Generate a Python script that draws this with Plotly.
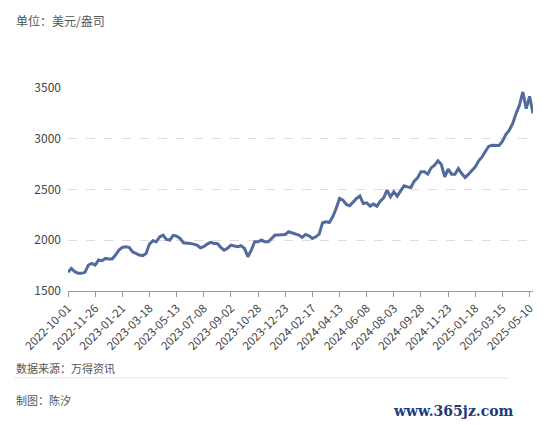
import pandas as pd
import plotly.graph_objects as go

# Weekly dates (Saturdays) from 2022-10-01
dates = [d.strftime("%Y-%m-%d") for d in pd.date_range("2022-10-01", periods=138, freq="7D")]

prices = [
    1684, 1723, 1690, 1674, 1674, 1684, 1756, 1772, 1756, 1805,
    1798, 1821, 1815, 1815, 1854, 1903, 1930, 1936, 1930, 1887,
    1870, 1854, 1848, 1870, 1962, 1995, 1985, 2034, 2051, 2008,
    2002, 2048, 2041, 2018, 1975, 1975, 1969, 1962, 1952, 1926,
    1936, 1962, 1979, 1969, 1969, 1930, 1903, 1920, 1952, 1943,
    1936, 1946, 1920, 1838, 1903, 1985, 1985, 2002, 1985, 1985,
    2018, 2051, 2051, 2051, 2057, 2084, 2074, 2061, 2051, 2028,
    2057, 2044, 2018, 2034, 2061, 2172, 2182, 2175, 2231, 2313,
    2412, 2395, 2352, 2339, 2379, 2412, 2435, 2362, 2369, 2336,
    2356, 2336, 2385, 2418, 2494, 2428, 2477, 2435, 2487, 2536,
    2526, 2520, 2582, 2615, 2674, 2674, 2651, 2713, 2739, 2782,
    2746, 2625, 2700, 2651, 2651, 2707, 2657, 2618, 2651, 2690,
    2723, 2782, 2821, 2877, 2926, 2936, 2936, 2933, 2976, 3041,
    3084, 3149, 3248, 3330, 3461, 3297, 3418, 3248,
]

tick_labels = [
    "2022-10-01", "2022-11-26", "2023-01-21", "2023-03-18", "2023-05-13",
    "2023-07-08", "2023-09-02", "2023-10-28", "2023-12-23", "2024-02-17",
    "2024-04-13", "2024-06-08", "2024-08-03", "2024-09-28", "2024-11-23",
    "2025-01-18", "2025-03-15", "2025-05-10",
]
y_ticks = [1500, 2000, 2500, 3000, 3500]

FONT = "Noto Sans CJK SC"

L, R, T, B = 68, 17, 88, 134
W, H = 550, 425
PW, PH = W - L - R, H - T - B

def px(x):
    return (x - L) / PW

def py(y):
    return (H - B - y) / PH

fig = go.Figure()
fig.add_trace(go.Scatter(
    x=dates, y=prices, mode="lines",
    line=dict(color="#526a9c", width=3),
    hoverinfo="skip", showlegend=False,
))

fig.update_layout(
    width=W, height=H,
    margin=dict(l=L, r=R, t=T, b=B),
    paper_bgcolor="white", plot_bgcolor="white",
    font=dict(family=FONT, size=11, color="#444"),
    xaxis=dict(
        type="category", automargin=False,
        range=[0, len(dates) - 1],
        tickmode="array", tickvals=tick_labels, ticktext=tick_labels,
        tickangle=-45,
        showgrid=False, zeroline=False,
        showline=True, linecolor="#999", linewidth=1,
        ticks="outside", ticklen=5, tickcolor="#999",
        tickfont=dict(family=FONT, size=11.5, color="#444"),
    ),
    yaxis=dict(
        range=[1500, 3500], automargin=False,
        tickmode="array", tickvals=y_ticks,
        showgrid=True, gridcolor="#dddddd", griddash="dash", gridwidth=1,
        zeroline=False, showline=False, ticks="",
        ticklabelstandoff=6,
        tickfont=dict(family=FONT, size=12, color="#444"),
    ),
)

fig.add_annotation(text="单位：美元/盎司", xref="paper", yref="paper",
                   x=px(14), y=py(20), xanchor="left", yanchor="middle",
                   showarrow=False, font=dict(family=FONT, size=12, color="#555"))
fig.add_annotation(text="数据来源：万得资讯", xref="paper", yref="paper",
                   x=px(14), y=py(368), xanchor="left", yanchor="middle",
                   showarrow=False, font=dict(family=FONT, size=11, color="#555"))
fig.add_annotation(text="制图：陈汐", xref="paper", yref="paper",
                   x=px(14), y=py(400), xanchor="left", yanchor="middle",
                   showarrow=False, font=dict(family=FONT, size=11, color="#555"))
fig.add_annotation(text="<b>www.365jz.com</b>", xref="paper", yref="paper",
                   x=px(516), y=py(411), xanchor="right", yanchor="middle",
                   showarrow=False, font=dict(family="DejaVu Serif", size=14, color="#1d3c7c"))
fig.add_shape(type="line", xref="paper", yref="paper",
              x0=px(14), x1=px(508), y0=py(378), y1=py(378),
              line=dict(color="#e6e6e6", width=1))

fig.write_html("out.html", config={"displayModeBar": False},
               post_script="document.body.style.margin='0';document.body.style.overflow='hidden';")
